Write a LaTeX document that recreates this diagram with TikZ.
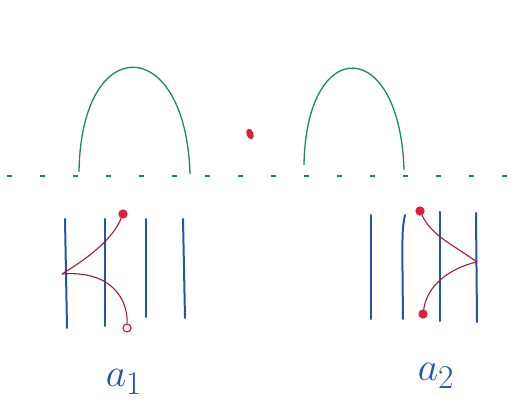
\documentclass[tikz,border=0pt]{standalone}
\usepackage{amsmath,amssymb}
\usepackage{tikz}
\usepackage{xcolor}
\definecolor{archgreen}{RGB}{25,140,90}
\definecolor{strandblue}{RGB}{35,85,175}
\definecolor{chordred}{RGB}{160,25,65}
\definecolor{dotred}{RGB}{225,30,60}
\tikzset{
  strand/.style={strandblue, line width=2pt, line cap=round},
  chord/.style={chordred, line width=1.1pt},
  knob/.style={circle, draw=dotred, line width=1.2pt, fill=dotred, inner sep=0pt, minimum size=8pt},
  hollowknob/.style={knob, fill=white},
  label/.style={strandblue, font=\Huge, scale=1.6}
}

\begin{document}
\begin{tikzpicture}[x=1pt,y=-1pt]
  \useasboundingbox (0,0) rectangle (531,406);
  % horizon
  \draw[archgreen, line width=1.2pt, dash pattern=on 5pt off 28pt] (7,176) -- (525,176);
  % arches
  \draw[archgreen, line width=1.3pt] (79,172) .. controls (81,30) and (186,34) .. (190,174);
  \draw[archgreen, line width=1.3pt] (304,165) .. controls (306,34) and (400,36) .. (404,170);
  \fill[dotred, rotate around={20:(250,134)}] (250,134) ellipse (3.5 and 5.5);

  % left diagram
  \draw[strand] (65,219) -- (67,328);
  \draw[strand] (105,219) -- (105,326);
  \draw[strand] (146,219) -- (146,317);
  \draw[strand] (183,219) -- (185,318);
  \coordinate (lmeet) at (62,274);
  \node[knob] (ltop) at (123,214) {};
  \node[hollowknob] (lbot) at (127,328) {};
  \draw[chord] (ltop) .. controls (112,240) and (88,258) .. (lmeet);
  \draw[chord] (lmeet) .. controls (112,270) and (128,300) .. (lbot);
  \node[label] (aone) at (124,382) {$a_1$};

  % right diagram
  \draw[strand] (371,215) -- (371,319);
  \draw[strand] (405,215) .. controls (402,230) .. (403,319);
  \draw[strand] (440,212) -- (440,321);
  \draw[strand] (476,213) -- (477,322);
  \coordinate (rmeet) at (477,262);
  \node[knob] (rtop) at (420,211) {};
  \node[knob] (rbot) at (423,314) {};
  \draw[chord] (rtop) .. controls (432,236) and (452,244) .. (rmeet);
  \draw[chord] (rmeet) .. controls (458,266) and (428,280) .. (rbot);
  \node[label] (atwo) at (436,376) {$a_2$};
\end{tikzpicture}
\end{document}
